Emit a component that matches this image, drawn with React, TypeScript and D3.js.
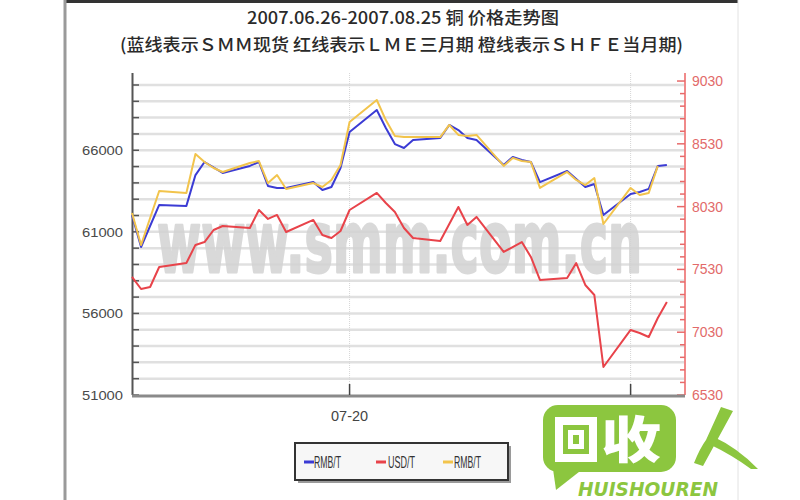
import React from 'react';
import * as d3 from 'd3';

// ---- data ----
const dates = [
  '2007-06-26', '2007-06-27', '2007-06-28', '2007-06-29', '2007-07-02', '2007-07-03', '2007-07-04',
  '2007-07-05', '2007-07-06', '2007-07-09', '2007-07-10', '2007-07-11', '2007-07-12', '2007-07-13',
  '2007-07-16', '2007-07-17', '2007-07-18', '2007-07-19', '2007-07-20', '2007-07-23', '2007-07-24',
  '2007-07-25', '2007-07-26', '2007-07-27', '2007-07-30', '2007-07-31', '2007-08-01', '2007-08-02',
  '2007-08-03', '2007-08-06', '2007-08-07', '2007-08-08', '2007-08-09', '2007-08-10', '2007-08-13',
  '2007-08-14', '2007-08-15', '2007-08-16', '2007-08-17', '2007-08-20', '2007-08-21', '2007-08-22',
  '2007-08-23', '2007-08-24',
];

// 蓝线 SMM现货 (RMB/T, left axis)
const smmSpot: (number | null)[] = [
  62030, 60070, null, 62650, 62590, 64480, 65280,
  null, 64610, 65040, 65280, 63810, 63690, 63690,
  64050, 63560, 63750, 64910, 67120, 68470, 67360,
  66380, 66140, 66630, 66750, 67550, 67240, 66750,
  66630, 65100, 65590, 65400, 65280, 64050, 64730,
  64240, 63750, 63930, 62030, 63320, 63440, 63630,
  65040, 65100,
];

// 红线 LME三月期 (USD/T, right axis)
const lmeThreeMonth: (number | null)[] = [
  7470, 7374, 7390, 7549, 7581, 7725, 7748,
  7844, 7876, 7860, 8003, 7932, 7964, 7828,
  7924, 7804, 7780, 7836, 8003, 8139, 8059,
  7987, 7860, 7780, 7756, null, 8027, 7884,
  7948, 7669, null, 7748, 7629, 7446, 7462,
  7581, 7406, 7326, 6753, 7048, 7024, 6992,
  7143, 7271,
];

// 橙线 SHFE当月期 (RMB/T, left axis)
const shfeMonth: (number | null)[] = [
  62150, 60190, null, 63500, 63380, 65770, 65280,
  64910, 64670, 65220, 65340, 63990, 64480, 63630,
  63990, 63750, 64180, 65100, 67730, 69080, 67850,
  66870, 66810, 66810, 66810, 67550, 66940, 66870,
  66940, 65040, 65530, 65340, 65280, 63690, 64670,
  64180, 63870, 64300, 61480, 63690, 63260, 63380,
  65040, null,
];

const leftTickLabels = [51000, 56000, 61000, 66000];
const rightTickLabels = [6530, 7030, 7530, 8030, 8530, 9030];
const xTickDates = ['2007-07-20', '2007-08-20'];
const xTickLabels = ['07-20', ''];
const legendLabels = ['RMB/T', 'USD/T', 'RMB/T'];
const titleLine1 = '2007.06.26-2007.08.25 铜 价格走势图';
const titleLine2 = '(蓝线表示ＳＭＭ现货 红线表示ＬＭＥ三月期 橙线表示ＳＨＦＥ当月期)';
const watermarkText = 'www.smm.com.cn';
const logoLatin = 'HUISHOUREN';

// ---- layout ----
const W = 800;
const H = 500;
const plot = { left: 132, right: 685, top: 73, bottom: 395 };
const BLUE = '#3b3bd4';
const RED = '#e8434a';
const ORANGE = '#f2c44c';
const GREEN = '#8cc63f';

const parse = d3.timeParse('%Y-%m-%d');

export default function App() {
  const x = d3
    .scaleTime()
    .domain([parse('2007-06-26') as Date, parse('2007-08-26') as Date])
    .range([plot.left, plot.right]);
  const yL = d3.scaleLinear().domain([51000, 70735]).range([plot.bottom, plot.top]);
  const yR = d3.scaleLinear().domain([6530, 9094]).range([plot.bottom, plot.top]);

  const mk = (vals: (number | null)[], y: d3.ScaleLinear<number, number>) => {
    const pts = dates
      .map((d, i) => ({ d: parse(d) as Date, v: vals[i] }))
      .filter((p) => p.v !== null) as { d: Date; v: number }[];
    return d3
      .line<{ d: Date; v: number }>()
      .x((p) => x(p.d))
      .y((p) => y(p.v))(pts) as string;
  };

  const gridVals = d3.range(52000, 70001, 1000);
  const leftMinor = d3.range(51000, 70001, 1000);
  const rightMinor = d3.range(6530, 9094, 100);

  const sans = "'Liberation Sans', Arial, sans-serif";
  const cjk = "'Noto Sans CJK SC', 'Noto Sans', sans-serif";

  return (
    <div style={{ position: 'absolute', left: 0, top: 0 }}>
      <svg width={W} height={H} viewBox={`0 0 ${W} ${H}`} style={{ display: 'block', background: '#fff' }}>
        {/* frame */}
        <rect x={0} y={0} width={W} height={H} fill="#fff" />
        <rect x={66} y={0} width={672} height={3} fill="#333" />
        <line x1={65} y1={0} x2={65} y2={H} stroke="#9a9a9a" strokeWidth={3} />
        <line x1={738} y1={0} x2={738} y2={H} stroke="#e2e2e2" strokeWidth={1} />

        {/* title */}
        <text x={247} y={24} fontFamily={cjk} fontWeight={500} fontSize={17} fill="#2a2a2a" textLength={312} lengthAdjust="spacingAndGlyphs">
          {titleLine1}
        </text>
        <text x={120} y={51} fontFamily={cjk} fontWeight={500} fontSize={17} fill="#2a2a2a" textLength={563} lengthAdjust="spacingAndGlyphs">
          {titleLine2}
        </text>

        {/* horizontal gridlines */}
        {gridVals.map((v) => (
          <line key={v} x1={plot.left} x2={plot.right} y1={yL(v)} y2={yL(v)} stroke="#e0e0e0" strokeWidth={2.5} />
        ))}
        {/* vertical gridlines */}
        {xTickDates.map((d) => (
          <line key={d} x1={x(parse(d) as Date)} x2={x(parse(d) as Date)} y1={plot.top} y2={plot.bottom} stroke="#d6d6d6" strokeWidth={1} strokeDasharray="1,1" />
        ))}

        {/* watermark */}
        <g transform="translate(157,272) scale(1,1.8)">
          <text x={0} y={0} fontFamily="'DejaVu Sans', sans-serif" fontWeight="bold" fontSize={47} fill="#d3d3d3" stroke="#d3d3d3" strokeWidth={1.6} strokeLinejoin="round" opacity={0.85} textLength={485} lengthAdjust="spacingAndGlyphs">
            {watermarkText}
          </text>
        </g>

        {/* left axis */}
        <line x1={plot.left + 0.5} x2={plot.left + 0.5} y1={plot.top} y2={plot.bottom} stroke="#555" strokeWidth={2} />
        {leftMinor.map((v) => (
          <line key={v} x1={plot.left} x2={plot.left + 7} y1={yL(v)} y2={yL(v)} stroke="#555" strokeWidth={1.5} />
        ))}
        {leftTickLabels.map((v) => (
          <text key={v} x={123} y={yL(v) + 5} textAnchor="end" fontFamily={sans} fontSize={13.5} fill="#4a4a4a" textLength={41} lengthAdjust="spacingAndGlyphs">
            {v}
          </text>
        ))}

        {/* right axis */}
        <line x1={plot.right} x2={plot.right} y1={plot.top} y2={plot.bottom} stroke="#f08a8a" strokeWidth={2} />
        {rightMinor.map((v) => {
          const major = (v - 6530) % 500 === 0;
          return (
            <line key={v} x1={plot.right - (major ? 8 : 5)} x2={plot.right} y1={yR(v)} y2={yR(v)} stroke="#e86a6a" strokeWidth={1.5} />
          );
        })}
        {rightTickLabels.map((v) => (
          <text key={v} x={692} y={yR(v) + 5} fontFamily={sans} fontSize={14} fill="#e26a6a" textLength={31} lengthAdjust="spacingAndGlyphs">
            {v}
          </text>
        ))}

        {/* bottom axis */}
        <line x1={plot.left} x2={plot.right} y1={plot.bottom + 1} y2={plot.bottom + 1} stroke="#8a8a8a" strokeWidth={3} />
        {xTickDates.map((d) => (
          <line key={d} x1={x(parse(d) as Date)} x2={x(parse(d) as Date)} y1={plot.bottom - 11} y2={plot.bottom} stroke="#444" strokeWidth={1.5} />
        ))}
        {xTickDates.map((d, i) =>
          xTickLabels[i] ? (
            <text key={d} x={x(parse(d) as Date)} y={421} textAnchor="middle" fontFamily={sans} fontSize={15} fill="#444" textLength={37} lengthAdjust="spacingAndGlyphs">
              {xTickLabels[i]}
            </text>
          ) : null
        )}

        {/* series */}
        <path d={mk(lmeThreeMonth, yR)} fill="none" stroke={RED} strokeWidth={2} strokeLinejoin="round" />
        <path d={mk(smmSpot, yL)} fill="none" stroke={BLUE} strokeWidth={2} strokeLinejoin="round" />
        <path d={mk(shfeMonth, yL)} fill="none" stroke={ORANGE} strokeWidth={2} strokeLinejoin="round" />

        {/* legend */}
        <rect x={298} y={446} width={213} height={37} fill="#9a9a9a" />
        <rect x={295} y={443} width={213} height={37} fill="#f7f7f7" stroke="#333" strokeWidth={2} />
        {[BLUE, RED, ORANGE].map((c, i) => {
          const xs = [304, 376, 443][i];
          const tx = [314, 388, 454][i];
          return (
            <g key={i}>
              <line x1={xs} x2={xs + 10} y1={462} y2={462} stroke={c} strokeWidth={3} />
              <text x={tx} y={468} fontFamily={sans} fontSize={17} fill="#333" textLength={27} lengthAdjust="spacingAndGlyphs">
                {legendLabels[i]}
              </text>
            </g>
          );
        })}

        {/* logo watermark */}
        <g>
          <path d="M552 462 L556 490 L584 468 Z" fill={GREEN} />
          <rect x={543} y={405} width={133} height={67} rx={15} fill={GREEN} />
          <rect x={555} y={417} width={42} height={45} fill="#fff" />
          <rect x={563} y={425} width={26} height={29} fill={GREEN} />
          <rect x={568} y={430} width={16} height={19} fill="#fff" />
          <rect x={573} y={435} width={6} height={9} fill={GREEN} />
          <text x={601} y={458} fontFamily={cjk} fontWeight={900} fontSize={50} fill="#fff" textLength={60} lengthAdjust="spacingAndGlyphs">
            收
          </text>
          <path d="M721 407 L733 411 L703 466 L694 463 Q700 448 706 440 Z" fill={GREEN} />
          <path d="M712 436 Q738 448 758 469 L751 469 Q732 455 709 444 Z" fill={GREEN} />
          <text x={578} y={496} fontFamily="'DejaVu Sans', sans-serif" fontWeight="bold" fontStyle="italic" fontSize={20} fill={GREEN} textLength={140} lengthAdjust="spacingAndGlyphs">
            {logoLatin}
          </text>
        </g>
      </svg>
    </div>
  );
}
